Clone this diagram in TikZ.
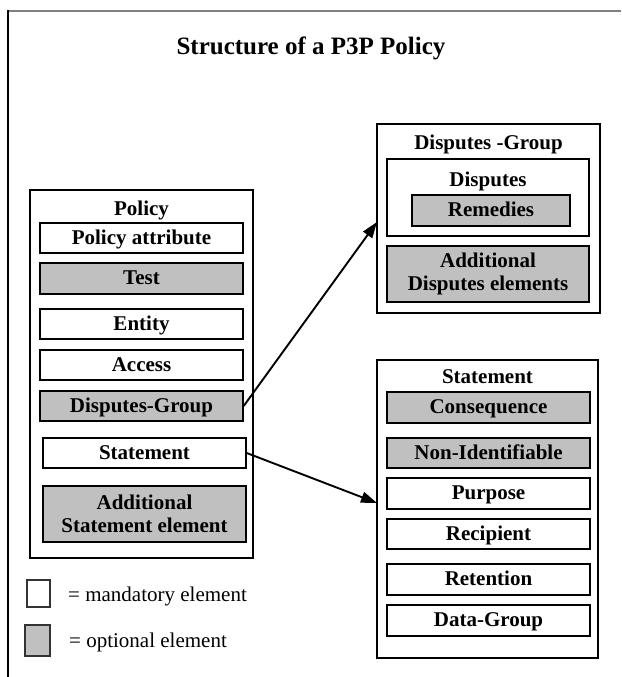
\documentclass[tikz,border=0pt]{standalone}
\usepackage{fontspec}
\setmainfont{Liberation Serif}
\usetikzlibrary{arrows.meta}
\definecolor{optgray}{RGB}{192,192,192}
\tikzset{
  lbl/.style={font=\fontsize{21}{23}\selectfont\bfseries, inner sep=0pt, text height=14pt, text depth=2pt},
  elem/.style={draw=black, line width=1.4pt, inner sep=0pt, align=center,
               font=\fontsize{21}{23}\selectfont\bfseries},
  oneline/.style={text height=14pt, text depth=2pt},
  mand/.style={elem, fill=white},
  opt/.style={elem, fill=optgray},
  group/.style={draw=black, line width=1.8pt, fill=white, inner sep=0pt},
  link/.style={line width=1.9pt, -{Triangle[length=16pt,width=11pt]}},
  legtext/.style={font=\fontsize{21}{23}\selectfont, inner sep=0pt, anchor=west, text height=14pt, text depth=2pt},
}
% box of given width/height centred at a point
\newcommand{\elembox}[6]{%
  \node[#1, minimum width=#4pt, minimum height=#5pt] (#2) at (#3) {#6};}
\begin{document}
\begin{tikzpicture}[x=1pt, y=-1pt]
\useasboundingbox (0,0) rectangle (621,677);
% frame
\draw[line width=1.8pt, gray] (8,11) -- (621,11);
\draw[line width=1.8pt, black] (8,10) -- (8,677);
\node[font=\fontsize{25}{28}\selectfont\bfseries, inner sep=0pt, text height=17pt, text depth=1pt] (title) at (311,47) {Structure of a P3P Policy};

% policy
\elembox{group}{policy}{141.5,374}{223}{368}{}
\node[lbl] (policylbl) at (141.5,209) {Policy};
\elembox{mand,oneline}{pattr}{141.5,238}{203}{30}{Policy attribute}
\elembox{opt,oneline}{test}{141.5,278.5}{203}{31}{Test}
\elembox{mand,oneline}{entity}{141.5,324}{203}{30}{Entity}
\elembox{mand,oneline}{access}{141.5,365}{203}{30}{Access}
\elembox{opt,oneline}{dgref}{141.5,406}{203}{30}{Disputes-Group}
\elembox{mand,oneline}{stref}{144.5,453}{203}{30}{Statement}
\elembox{opt}{addst}{144.5,514}{203}{56}{Additional\\Statement element}

% disputes group
\elembox{group}{dgroup}{488.5,218.5}{223}{189}{}
\node[lbl] (dglbl) at (488.5,143) {Disputes -Group};
\elembox{mand}{disputes}{488,197.5}{202}{77}{}
\node[lbl] (displbl) at (488,180) {Disputes};
\elembox{opt,oneline}{remedies}{491,210.5}{158}{31}{Remedies}
\elembox{opt}{adddisp}{488,274}{202}{56}{Additional\\Disputes elements}

% statement
\elembox{group}{stmt}{487.5,509}{221}{298}{}
\node[lbl] (stlbl) at (487.5,377) {Statement};
\elembox{opt,oneline}{conseq}{488.5,407.5}{203}{31}{Consequence}
\elembox{opt,oneline}{nonid}{488.5,453}{203}{30}{Non-Identifiable}
\elembox{mand,oneline}{purpose}{488.5,493.5}{203}{31}{Purpose}
\elembox{mand,oneline}{recip}{488.5,534}{203}{30}{Recipient}
\elembox{mand,oneline}{reten}{488.5,579.5}{203}{31}{Retention}
\elembox{mand,oneline}{datag}{488.5,620.5}{203}{31}{Data-Group}

% connectors
\coordinate (dgin) at (377,222);
\coordinate (stin) at (377,503);
\draw[link] (dgref.east) -- (dgin);
\draw[link] (stref.east) -- (stin);

% legend
\node[draw=black!80, line width=1.2pt, fill=white, minimum width=23pt, minimum height=27pt, inner sep=0pt] (legm) at (38.5,593.5) {};
\node[draw=black!80, line width=1.2pt, fill=optgray, minimum width=25pt, minimum height=31pt, inner sep=0pt] (lego) at (37.5,640.5) {};
\node[legtext] (legmt) at (68,595) {= mandatory element};
\node[legtext] (legot) at (69,641) {= optional element};
\end{tikzpicture}
\end{document}
